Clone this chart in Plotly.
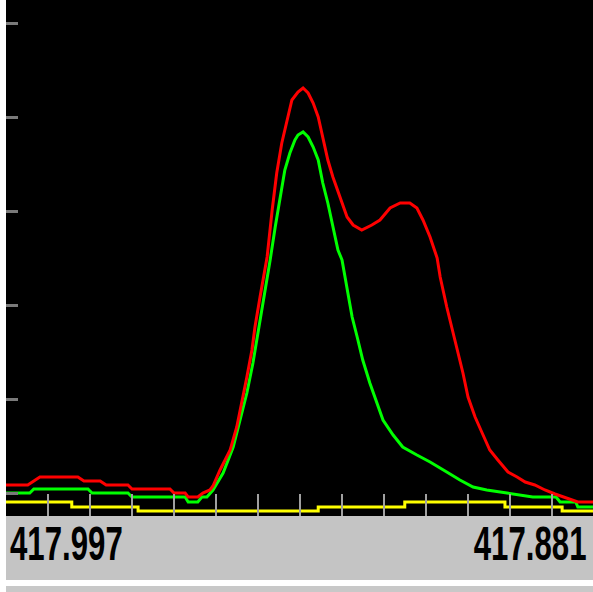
import plotly.graph_objects as go

# m/z axis runs from 417.997 (left) to 417.881 (right)
mz_left = 417.997
mz_right = 417.881

red_mz = [417.9970, 417.9927, 417.9915, 417.9903, 417.9828, 417.9816, 417.9784, 417.9772,
          417.9729, 417.9721, 417.9646, 417.9638, 417.9616, 417.9610, 417.9591, 417.9581,
          417.9567, 417.9561, 417.9547, 417.9527, 417.9514, 417.9504, 417.9494, 417.9484,
          417.9478, 417.9468, 417.9458, 417.9454, 417.9444, 417.9435, 417.9425, 417.9415,
          417.9405, 417.9393, 417.9383, 417.9373, 417.9363, 417.9353, 417.9344, 417.9334,
          417.9324, 417.9310, 417.9296, 417.9284, 417.9267, 417.9247, 417.9231, 417.9211,
          417.9191, 417.9172, 417.9158, 417.9146, 417.9132, 417.9118, 417.9112, 417.9099,
          417.9089, 417.9077, 417.9067, 417.9057, 417.9043, 417.9029, 417.9014, 417.8998,
          417.8978, 417.8960, 417.8944, 417.8925, 417.8905, 417.8885, 417.8861, 417.8840,
          417.8810]
red_int = [310, 310, 350, 390, 390, 350, 350, 310, 310, 270, 270, 230, 230, 190, 190, 230,
           260, 300, 460, 660, 890, 1130, 1390, 1660, 1890, 2190, 2460, 2590, 3060, 3430,
           3730, 3960, 4160, 4240, 4280, 4230, 4130, 3990, 3790, 3560, 3390, 3190, 2990,
           2910, 2860, 2910, 2960, 3080, 3130, 3130, 3080, 2960, 2790, 2580, 2390, 2090,
           1890, 1630, 1430, 1190, 990, 830, 660, 560, 440, 390, 340, 310, 260, 220, 180,
           140, 140]

green_mz = [417.9970, 417.9923, 417.9915, 417.9808, 417.9800, 417.9729, 417.9721, 417.9616,
            417.9610, 417.9591, 417.9583, 417.9573, 417.9561, 417.9541, 417.9521, 417.9508,
            417.9494, 417.9482, 417.9472, 417.9464, 417.9454, 417.9448, 417.9438, 417.9429,
            417.9419, 417.9409, 417.9399, 417.9393, 417.9383, 417.9373, 417.9363, 417.9353,
            417.9344, 417.9334, 417.9324, 417.9314, 417.9306, 417.9296, 417.9286, 417.9276,
            417.9265, 417.9251, 417.9237, 417.9225, 417.9205, 417.9186, 417.9158, 417.9132,
            417.9099, 417.9073, 417.9047, 417.9020, 417.8980, 417.8929, 417.8883, 417.8875,
            417.8844, 417.8840, 417.8810]
green_int = [230, 230, 270, 270, 230, 230, 190, 190, 140, 140, 190, 190, 260, 430, 690, 960,
             1230, 1530, 1830, 2060, 2360, 2560, 2890, 3160, 3460, 3630, 3760, 3810, 3840,
             3790, 3690, 3560, 3330, 3130, 2890, 2660, 2560, 2260, 1990, 1790, 1560, 1330,
             1130, 960, 810, 690, 610, 540, 440, 360, 290, 260, 230, 190, 190, 140, 140, 90, 90]

yellow_mz = [417.9970, 417.9840, 417.9709, 417.9353, 417.9182, 417.8984, 417.8871, 417.8810]
yellow_int = [140, 90, 50, 90, 140, 90, 50, 50]

left_label = "417.997"
right_label = "417.881"

fig = go.Figure()
fig.add_trace(go.Scatter(x=yellow_mz, y=yellow_int, mode="lines", line_shape="hv",
                         line=dict(color="#ffff00", width=3), hoverinfo="skip"))
fig.add_trace(go.Scatter(x=green_mz, y=green_int, mode="lines",
                         line=dict(color="#00ff00", width=3), hoverinfo="skip"))
fig.add_trace(go.Scatter(x=red_mz, y=red_int, mode="lines",
                         line=dict(color="#ff0000", width=3), hoverinfo="skip"))

W, H = 593, 592
L, B = 6, 76
pw, ph = W - L, H - B

label_font = dict(family="Liberation Sans, Arial, sans-serif", size=48,
                  color="#000000", weight="bold")

fig.update_layout(
    width=W, height=H,
    margin=dict(l=L, r=0, t=0, b=B, pad=0),
    paper_bgcolor="#ffffff",
    plot_bgcolor="#000000",
    showlegend=False,
    xaxis=dict(range=[mz_left, mz_right], showgrid=False, zeroline=False,
               showticklabels=False, ticks="inside", ticklen=22, tickwidth=2,
               tickcolor="#a0a0a0", tickmode="linear", tick0=417.8891, dtick=0.0083,
               showline=False, fixedrange=True),
    yaxis=dict(range=[0, 5160], showgrid=False, zeroline=False,
               showticklabels=False, ticks="inside", ticklen=12, tickwidth=3,
               tickcolor="#7a7a7a", tickmode="linear", tick0=1170, dtick=940,
               showline=False, fixedrange=True),
    shapes=[
        dict(type="rect", xref="paper", yref="paper", x0=0, x1=1,
             y0=0, y1=-64 / ph, fillcolor="#c4c4c4", line_width=0, layer="below"),
        dict(type="rect", xref="paper", yref="paper", x0=0, x1=1,
             y0=-70 / ph, y1=-76 / ph, fillcolor="#c8c8c8", line_width=0, layer="below"),
    ],
    annotations=[
        dict(text=left_label, xref="paper", yref="paper", x=2 / pw, y=-27 / ph,
             xanchor="left", yanchor="middle", showarrow=False, font=label_font),
        dict(text=right_label, xref="paper", yref="paper", x=(589 - L) / pw, y=-27 / ph,
             xanchor="right", yanchor="middle", showarrow=False, font=label_font),
    ],
)

post = """
document.body.style.margin = '0';
document.body.style.padding = '0';
document.body.style.overflow = 'hidden';
var els = document.querySelectorAll('.annotation-text');
els.forEach(function(el, i){
  el.style.transformBox = 'fill-box';
  el.style.transformOrigin = (i === 0) ? 'left center' : 'right center';
  el.style.transform = 'scaleX(0.65)';
});
"""

fig.write_html("out.html", post_script=post, config={"displayModeBar": False})
